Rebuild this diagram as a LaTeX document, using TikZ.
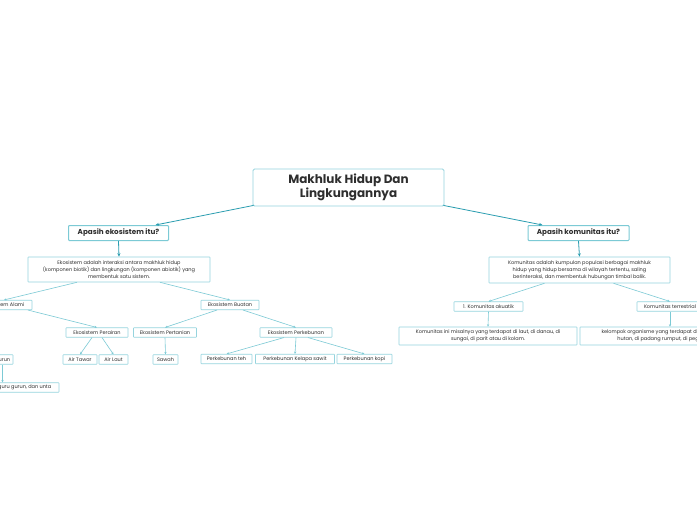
\documentclass[tikz,border=0pt]{standalone}
\usepackage{fontspec}
\setmainfont{Poppins}
\usetikzlibrary{arrows.meta, positioning}
\definecolor{linkdark}{HTML}{2A9DB0}
\definecolor{linklight}{HTML}{7CCAD5}
\definecolor{boxline}{HTML}{96D4DE}
\definecolor{txt}{HTML}{2E2E2E}

\tikzset{
  rootbox/.style={draw=boxline, line width=0.8pt, rounded corners=1.5pt, fill=white, text=txt,
    font=\fontsize{12}{13.5}\selectfont\bfseries, align=center,
    minimum width=191pt, minimum height=37pt, inner sep=0pt},
  qbox/.style={draw=linklight, line width=1pt, rounded corners=0.8pt, fill=white, text=txt,
    font=\fontsize{7.2}{8}\selectfont\bfseries, minimum height=15pt, inner sep=0pt},
  leaf/.style={draw=boxline, line width=0.6pt, rounded corners=0.5pt, fill=white, text=txt,
    font=\fontsize{5}{7}\selectfont, minimum height=9.5pt, inner sep=0pt, align=center},
  link/.style={draw=linkdark, line width=0.8pt, -{Stealth[length=3.5pt,width=3pt]}},
  sublink/.style={draw=linklight, line width=0.6pt, -{Stealth[length=2.5pt,width=2.2pt]}},
}

\begin{document}
\begin{tikzpicture}[x=1pt, y=-1pt]
    % Page
    \fill[white] (0,0) rectangle (697,520);
    \useasboundingbox (0,0) rectangle (697,520);

    % Root
    \node[rootbox] (root) at (348.5,187.5) {Makhluk Hidup Dan\\Lingkungannya};

    % Questions
    \node[qbox, minimum width=100pt] (ekoq) at (118.5,233) {Apasih ekosistem itu?};
    \node[qbox, minimum width=101pt] (komq) at (578.5,233) {Apasih komunitas itu?};

    % Definitions
    \node[leaf, minimum width=182pt, minimum height=25pt] (ekodef) at (119,269.5)
        {Ekosistem adalah interaksi antara makhluk hidup\\(komponen biotik) dan lingkungan (komponen abiotik) yang\\membentuk satu sistem.};
    \node[leaf, minimum width=181pt, minimum height=26pt] (komdef) at (579.5,270)
        {Komunitas adalah kumpulan populasi berbagai makhluk\\hidup yang hidup bersama di wilayah tertentu, saling\\berinteraksi, dan membentuk hubungan timbal balik.};

    % Ekosistem branch
    \node[leaf, minimum width=56pt] (alami) at (4,305) {Ekosistem Alami};
    \node[leaf, minimum width=58pt] (buatan) at (230,305) {Ekosistem Buatan};
    \node[leaf, minimum width=62pt] (perairan) at (97,332.5) {Ekosistem Perairan};
    \node[leaf, minimum width=63pt] (pertanian) at (165,332.5) {Ekosistem Pertanian};
    \node[leaf, minimum width=72pt] (perkebunan) at (296,332.5) {Ekosistem Perkebunan};
    \node[leaf, minimum width=21pt] (gurun) at (2.5,359.5) {Gurun};
    \node[leaf, minimum width=113pt] (contoh) at (2.5,387.5) {Kaktus, kadal, kanguru gurun, dan unta};
    \node[leaf, minimum width=34pt] (airtawar) at (80,359.5) {Air Tawar};
    \node[leaf, minimum width=29pt] (airlaut) at (113.5,359.5) {Air Laut};
    \node[leaf, minimum width=25pt] (sawah) at (165.5,359.5) {Sawah};
    \node[leaf, minimum width=51pt] (teh) at (226.5,359) {Perkebunan teh};
    \node[leaf, minimum width=79pt] (sawit) at (295,359) {Perkebunan Kelapa sawit};
    \node[leaf, minimum width=55pt] (kopi) at (364.5,359) {Perkebunan kopi};

    % Komunitas branch
    \node[leaf, minimum width=69pt] (akuatik) at (488.5,306.5) {1. Komunitas akuatik};
    \node[leaf, minimum width=66pt] (terrestrial) at (670,306.5) {Komunitas terrestrial};
    \node[leaf, minimum width=178pt, minimum height=18pt] (akudesc) at (488,336)
        {Komunitas ini misalnya yang terdapat di laut, di danau, di\\sungai, di parit atau di kolam.};
    \node[leaf, minimum width=180pt, minimum height=18pt] (terdesc) at (670,336)
        {kelompok organisme yang terdapat di darat, seperti di\\hutan, di padang rumput, di pegunungan.};

    % Main links
    \draw[link] ([xshift=1pt, yshift=1pt]root.south west) -- ([xshift=37pt]ekoq.north);
    \draw[link] ([xshift=-1pt, yshift=1pt]root.south east) -- ([xshift=-36pt]komq.north);
    \draw[link] (ekoq.south) -- (ekodef.north);
    \draw[link] (komq.south) -- (komdef.north);

    % Ekosistem links
    \draw[sublink] ([xshift=-42pt]ekodef.south) -- (alami.north);
    \draw[sublink] ([xshift=41pt]ekodef.south) -- (buatan.north);
    \draw[sublink] ([xshift=24pt]alami.south) -- (perairan.north);
    \draw[sublink] ([xshift=-13pt]buatan.south) -- (pertanian.north);
    \draw[sublink] ([xshift=13pt]buatan.south) -- (perkebunan.north);
    \draw[sublink] ([xshift=-5pt]perairan.south) -- (airtawar.north);
    \draw[sublink] ([xshift=5pt]perairan.south) -- (airlaut.north);
    \draw[sublink] (pertanian.south) -- (sawah.north);
    \draw[sublink] ([xshift=-12pt]perkebunan.south) -- (teh.north);
    \draw[sublink] (perkebunan.south) -- (sawit.north);
    \draw[sublink] ([xshift=12pt]perkebunan.south) -- (kopi.north);
    \draw[sublink] (gurun.south) -- (contoh.north);

    % Komunitas links
    \draw[sublink] ([xshift=-35pt]komdef.south) -- (akuatik.north);
    \draw[sublink] ([xshift=34pt]komdef.south) -- (terrestrial.north);
    \draw[sublink] (akuatik.south) -- (akudesc.north);
    \draw[sublink] (terrestrial.south) -- (terdesc.north);
\end{tikzpicture}
\end{document}
